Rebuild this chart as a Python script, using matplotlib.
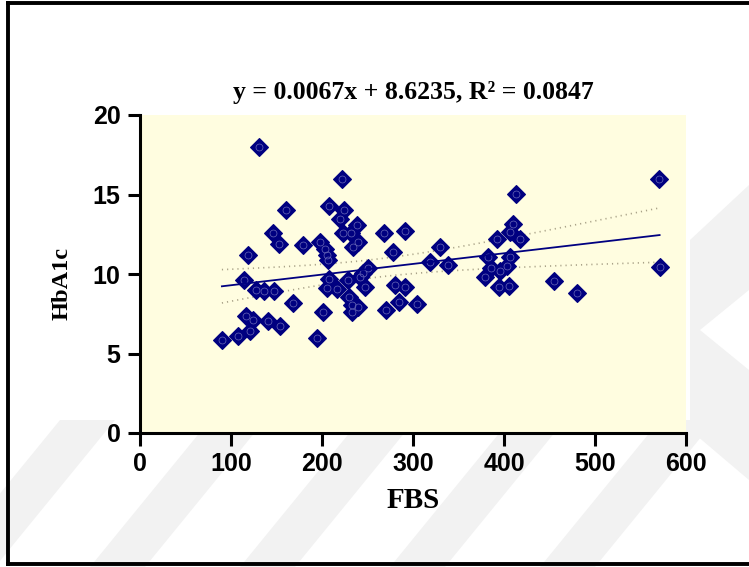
import numpy as np
import matplotlib.pyplot as plt
from matplotlib.lines import Line2D
from matplotlib.patches import Polygon

# FBS vs HbA1c
fbs = [90, 108, 121, 117, 124, 141, 154, 194, 114, 128,
       136, 147, 168, 201, 119, 146, 153, 160, 131, 179,
       198, 203, 205, 207, 208, 224, 220, 239, 232, 223,
       240, 234, 268, 291, 278, 330, 319, 338, 251, 245,
       242, 208, 229, 247, 205, 216, 280, 291, 230, 233,
       240, 233, 285, 304, 270, 222, 413, 410, 407, 418,
       392, 382, 407, 386, 403, 379, 394, 405, 455, 480,
       570, 571, 396]
hba1c = [5.85, 6.1, 6.43, 7.36, 7.1, 7.06, 6.7, 6.0, 9.6, 9.0,
         8.9, 8.9, 8.16, 7.6, 11.2, 12.56, 11.9, 14.0, 18.0, 11.8,
         12.0, 11.6, 11.2, 10.9, 14.3, 14.0, 13.46, 13.08, 12.56, 12.56,
         12.03, 11.7, 12.6, 12.7, 11.4, 11.7, 10.77, 10.57, 10.36, 10.04,
         9.8, 9.67, 9.62, 9.16, 9.1, 9.04, 9.3, 9.2, 8.57, 8.05,
         7.95, 7.63, 8.26, 8.1, 7.74, 16.0, 15.03, 13.14, 12.66, 12.18,
         12.2, 11.1, 11.1, 10.4, 10.5, 9.8, 9.16, 9.24, 9.55, 8.82,
         16.0, 10.42, 10.2]

slope = 0.0067
intercept = 8.6235
title = 'y = 0.0067x + 8.6235, R² = 0.0847'


def conf_band(x, y, xs):
    x = np.asarray(x, float)
    y = np.asarray(y, float)
    n = len(x)
    resid = y - (slope * x + intercept)
    s = np.sqrt(np.sum(resid ** 2) / (n - 2))
    sxx = np.sum((x - x.mean()) ** 2)
    half = 1.993 * s * np.sqrt(1.0 / n + (xs - x.mean()) ** 2 / sxx)
    fit = slope * xs + intercept
    return fit - half, fit + half


def px(x, y):
    # pixel position -> figure fraction
    return (x / 749, 1 - y / 567)


def plot_graph():
    fig = plt.figure(figsize=(7.49, 5.67), dpi=100)

    # faint watermark stripes in the background
    for x0 in [-60, 90, 240, 390, 540]:
        pts = [px(x0, 567), px(x0 + 55, 567), px(x0 + 175, 420), px(x0 + 120, 420)]
        fig.add_artist(Polygon(pts, closed=True, color='#f2f2f2', lw=0, zorder=0))
    fig.add_artist(Polygon([px(749, 185), px(749, 290), px(700, 330), px(749, 370),
                            px(749, 480), px(690, 430), px(690, 240)],
                           closed=True, color='#f2f2f2', lw=0, zorder=0))

    ax = fig.add_axes([140 / 749, 1 - 433 / 567, 546 / 749, 318 / 567])
    ax.set_facecolor('#fffde0')

    xs = np.linspace(min(fbs), max(fbs), 100)
    lo, hi = conf_band(fbs, hba1c, xs)
    ax.plot(xs, lo, ls=(0, (0.7, 2.4)), color='#a9a288', lw=1.2)
    ax.plot(xs, hi, ls=(0, (0.7, 2.4)), color='#a9a288', lw=1.2)

    ax.plot(fbs, hba1c, 'D', ms=9.5, color='#000080', mec='#000080', mew=0.8)
    ax.plot(fbs, hba1c, 'o', ms=5, mfc='none', mec='#6a6ab8', mew=0.5)
    ax.plot(xs, slope * xs + intercept, color='#000080', lw=1.3)

    ax.set_xlim(0, 600)
    ax.set_ylim(0, 20)
    ax.set_xticks(range(0, 601, 100))
    ax.set_yticks(range(0, 21, 5))
    for side in ['top', 'right']:
        ax.spines[side].set_visible(False)
    for side in ['left', 'bottom']:
        ax.spines[side].set_linewidth(2.2)
    ax.tick_params(length=9, width=2.2, labelsize=18, pad=5)
    for lab in ax.get_xticklabels() + ax.get_yticklabels():
        lab.set_fontweight('bold')
        lab.set_family('Liberation Sans')

    fig.text(*px(413, 500), 'FBS', family='Liberation Serif', fontweight='bold',
             fontsize=21, ha='center', va='center')
    fig.text(*px(62, 284), 'HbA1c', family='Liberation Serif', fontweight='bold',
             fontsize=17.5, ha='center', va='center', rotation=90)
    fig.text(*px(413, 93), title, family='Liberation Serif', fontweight='bold',
             fontsize=18.5, ha='center', va='center')

    # outer frame (left, top, bottom only)
    for xy in [([8 / 749, 8 / 749], [0.005, 0.995]),
               ([8 / 749, 1.0], [0.995, 0.995]),
               ([8 / 749, 1.0], [0.005, 0.005])]:
        fig.add_artist(Line2D(xy[0], xy[1], color='black', lw=2.8))

    fig.savefig('out.png', dpi=100)


plot_graph()
